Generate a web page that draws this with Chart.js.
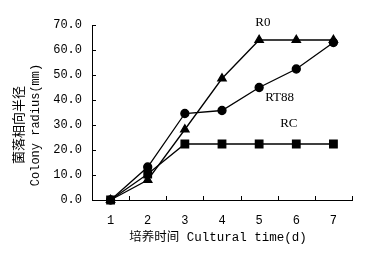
<!DOCTYPE html>
<html><head><meta charset="utf-8">
<script src="https://cdn.jsdelivr.net/npm/chart.js@4"></script>
<style>html,body{margin:0;padding:0;background:#fff}#wrap{width:386px;height:258px}</style>
</head><body><div id="wrap"><canvas id="c" width="386" height="258"></canvas></div>
<script>
const days = ['1','2','3','4','5','6','7'];
const r0 = [0, 8.0, 28.2, 48.6, 64.0, 64.0, 64.0];
const rt88 = [0, 13.2, 34.6, 35.8, 45.0, 52.4, 63.0];
const rc = [0, 10.4, 22.4, 22.4, 22.4, 22.4, 22.4];
const yTicks = [0, 10, 20, 30, 40, 50, 60, 70];
const seriesNames = ['R0', 'RT88', 'RC'];
const nameAt = [[4.1, 70.8], [4.55, 40.8], [4.8, 30.5]];
const yTitle = ['菌落相向半径', 'Colony radius(mm)'];
const xTitle = '培养时间 Cultural time(d)';

const monoCJK = "'Liberation Mono','Noto Sans CJK SC'";

const decor = {
  id: 'decor',
  afterDraw(chart) {
    const ctx = chart.ctx, x = chart.scales.x, y = chart.scales.y;
    ctx.save();
    ctx.strokeStyle = '#000';
    ctx.lineWidth = 1;
    ctx.beginPath();
    yTicks.forEach(v => {
      const py = Math.round(y.getPixelForValue(v)) + 0.5;
      ctx.moveTo(x.left, py); ctx.lineTo(x.left + 4, py);
    });
    for (let i = 1; i <= days.length; i++) {
      const px = Math.round(x.getPixelForValue(i - 0.5)) + 0.5;
      ctx.moveTo(px, y.bottom); ctx.lineTo(px, y.bottom - 4);
    }
    ctx.stroke();
    ctx.fillStyle = '#000';
    ctx.textAlign = 'center';
    ctx.textBaseline = 'middle';
    ctx.font = "13px 'Liberation Serif'";
    seriesNames.forEach((n, i) => {
      ctx.fillText(n, x.getPixelForValue(nameAt[i][0]), y.getPixelForValue(nameAt[i][1]));
    });
    ctx.save();
    ctx.translate(18, 125); ctx.rotate(-Math.PI / 2);
    ctx.font = "13px 'Noto Sans CJK SC'";
    ctx.fillText(yTitle[0], 0, 0);
    ctx.restore();
    ctx.save();
    ctx.translate(36, 125); ctx.rotate(-Math.PI / 2);
    ctx.font = "12px " + monoCJK;
    ctx.fillText(yTitle[1], 0, 0);
    ctx.restore();
    ctx.font = "12.5px " + monoCJK;
    ctx.fillText(xTitle, 218, 238);
    ctx.restore();
  }
};

const common = {
  borderColor: '#000', borderWidth: 1.3, backgroundColor: '#000',
  pointBackgroundColor: '#000', pointBorderColor: '#000', tension: 0, fill: false, clip: false
};

new Chart(document.getElementById('c'), {
  type: 'line',
  data: {
    labels: days,
    datasets: [
      Object.assign({label: seriesNames[1], data: rt88, pointStyle: 'circle', pointRadius: 4}, common),
      Object.assign({label: seriesNames[0], data: r0, pointStyle: 'triangle', pointRadius: 4.8}, common),
      Object.assign({label: seriesNames[2], data: rc, pointStyle: 'rect', pointRadius: 5.3}, common)
    ]
  },
  options: {
    responsive: false, animation: false, devicePixelRatio: 1,
    layout: {padding: {left: 0, right: 34, top: 25, bottom: 0}},
    plugins: {legend: {display: false}, tooltip: {enabled: false}},
    scales: {
      x: {
        type: 'category', offset: true,
        grid: {display: false, drawTicks: false},
        border: {display: true, color: '#000', width: 1},
        ticks: {color: '#000', font: {family: 'Liberation Mono', size: 12}, padding: 14, maxRotation: 0},
        afterFit(s) { s.height = 58; }
      },
      y: {
        min: 0, max: 70,
        grid: {display: false, drawTicks: false},
        border: {display: true, color: '#000', width: 1},
        ticks: {stepSize: 10, color: '#000', font: {family: 'Liberation Mono', size: 12}, padding: 10,
          callback: v => Number(v).toFixed(1)},
        afterFit(s) { s.width = 92; }
      }
    }
  },
  plugins: [decor]
});
</script></body></html>
